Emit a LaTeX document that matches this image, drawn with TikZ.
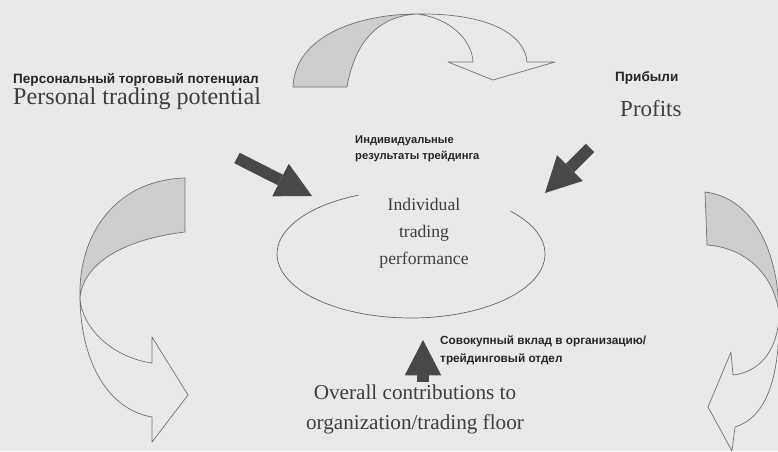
\documentclass[tikz,border=0pt]{standalone}
\usepackage{fontspec}
\setmainfont{Liberation Serif}
\newfontfamily\labelfont{Liberation Sans}
\usetikzlibrary{arrows.meta}
\definecolor{pagegray}{RGB}{233,233,233}
\definecolor{inkgray}{RGB}{62,62,62}
\definecolor{arrowgray}{RGB}{72,72,72}
\definecolor{ribbongray}{RGB}{205,205,205}

\begin{document}
\begin{tikzpicture}[x=0.85pt,y=-0.85pt,
  ruslabel/.style={font=\labelfont\bfseries\fontsize{11.5}{13}\selectfont, text=black!85, align=left, inner sep=0pt},
  englabel/.style={font=\fontsize{18}{25.5}\selectfont, text=inkgray, inner sep=0pt},
  perftext/.style={font=\fontsize{15}{23}\selectfont, text=inkgray, align=center, inner sep=0pt},
  darrow/.style={draw=arrowgray, line width=10pt, -{Triangle[length=30pt,width=31pt,line width=0pt]}},
  ribbon/.style={draw=black!55, line width=0.6pt, line join=round},
  ribbonback/.style={ribbon, fill=ribbongray}]
  \fill[pagegray] (0,0) rectangle (778,451);
  \useasboundingbox (0,0) rectangle (778,451);
  \clip (0,0) rectangle (778,451);

  % labels
  \node[ruslabel, anchor=west] (potential-ru) at (13,80) {Персональный торговый потенциал};
  \node[englabel, font=\fontsize{20.5}{25.5}\selectfont, anchor=west] (potential) at (13,99) {Personal trading potential};
  \node[ruslabel, anchor=west] (profits-ru) at (615,78) {Прибыли};
  \node[englabel, font=\fontsize{19.5}{25.5}\selectfont, anchor=west] (profits) at (620,109) {Profits};
  \node[ruslabel, font=\labelfont\bfseries\fontsize{9.5}{13}\selectfont, anchor=north west] (perf-ru) at (355,136) {Индивидуальные\\результаты трейдинга};
  \node[perftext] (perf) at (424,233) {Individual\\trading\\performance};
  \node[ruslabel, font=\labelfont\bfseries\fontsize{10}{15}\selectfont, anchor=north west] (contrib-ru) at (440,336) {Совокупный вклад в организацию/\\трейдинговый отдел};
  \node[englabel, align=center] (contrib) at (415,409) {Overall contributions to\\organization/trading floor};

  % open ellipse round the centre
  \draw[black!60, line width=0.6pt] (411,254) ++(-42:134 and 64) arc[start angle=-42, end angle=247, x radius=134, y radius=64];

  % dark arrows into the ellipse
  \coordinate (potential-tail) at (237,158);
  \coordinate (potential-tip) at (312,196);
  \coordinate (profits-tail) at (590,148);
  \coordinate (profits-tip) at (545,193);
  \coordinate (contrib-tail) at (423,382);
  \coordinate (contrib-tip) at (423,340);
  \draw[darrow] (potential-tail) -- (potential-tip);
  \draw[darrow] (profits-tail) -- (profits-tip);
  \draw[darrow, line width=11pt] (contrib-tail) -- (contrib-tip);

  % top ribbon arrow
  \filldraw[ribbonback] (293,87) .. controls (295,35) and (360,14) .. (417,14)
    .. controls (380,16) and (355,40) .. (347,87) -- cycle;
  \draw[ribbon] (417,14) .. controls (490,13) and (525,35) .. (527,62) -- (555,62) -- (493,80)
    -- (448,62) -- (473,62) .. controls (472,40) and (450,18) .. (417,14);

  % left ribbon arrow
  \filldraw[ribbonback] (185,178) .. controls (115,180) and (78,235) .. (80,298)
    .. controls (83,265) and (120,240) .. (185,232) -- cycle;
  \draw[ribbon] (80,298) .. controls (82,330) and (115,358) .. (152,363) -- (152,337) -- (188,395)
    -- (152,442) -- (152,417) .. controls (110,410) and (81,365) .. (80,298);

  % right ribbon arrow
  \filldraw[ribbonback] (705,192) .. controls (755,198) and (779,255) .. (779,315)
    .. controls (776,280) and (750,248) .. (707,245) -- cycle;
  \draw[ribbon] (779,315) .. controls (778,350) and (760,372) .. (733,375) -- (731,352) -- (708,407)
    -- (732,451) -- (735,427) .. controls (765,418) and (780,380) .. (779,315);
\end{tikzpicture}
\end{document}
